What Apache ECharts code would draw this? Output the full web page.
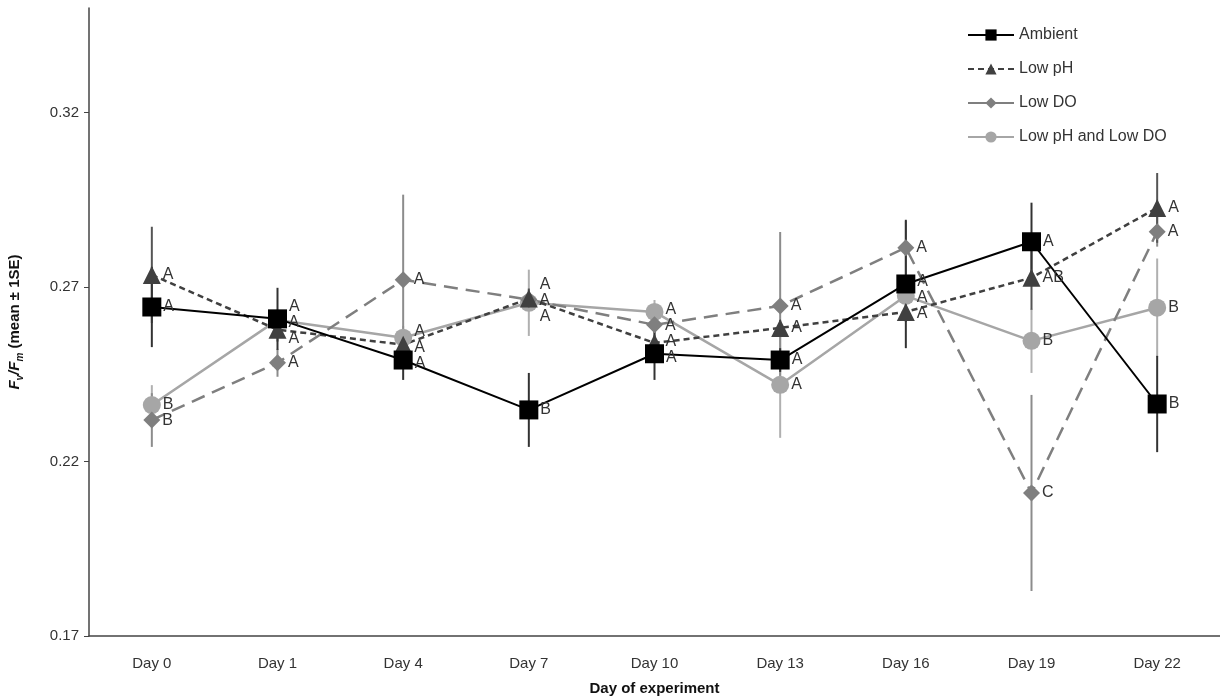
<!DOCTYPE html>
<html>
<head>
<meta charset="utf-8">
<script src="https://cdn.jsdelivr.net/npm/echarts@6/dist/echarts.min.js"></script>
<style>
  html, body { margin: 0; padding: 0; background: #fff; }
  #chart { width: 1220px; height: 700px; }
</style>
</head>
<body>
<div id="chart"></div>
<script>
// categories
var days = ["Day 0", "Day 1", "Day 4", "Day 7", "Day 10", "Day 13", "Day 16", "Day 19", "Day 22"];
var yTicks = [0.17, 0.22, 0.27, 0.32];

// means
var ambient = [0.2643, 0.2609, 0.2491, 0.2348, 0.2509, 0.2491, 0.2709, 0.2830, 0.2365];
var lowPH = [0.2735, 0.2578, 0.2535, 0.2667, 0.2540, 0.2583, 0.2629, 0.2727, 0.2927];
var lowDO = [0.2319, 0.2483, 0.2721, 0.2664, 0.2592, 0.2646, 0.2813, 0.2110, 0.2859];
var lowBoth = [0.2362, 0.2606, 0.2555, 0.2655, 0.2629, 0.2420, 0.2675, 0.2546, 0.2641];

// standard errors
var ambientSE = [0.0115, 0.0089, 0.0057, 0.0106, 0.0075, 0.0034, 0.0184, 0.0112, 0.0138];
var lowPHSE = [0.0138, 0.0034, 0.0023, 0.0029, 0.0023, 0.0023, 0.0029, 0.0092, 0.0100];
var lowDOSE = [0.0077, 0.0040, 0.0244, 0.0029, 0.0029, 0.0212, 0.0077, 0.0281, 0.0043];
var lowBothSE = [0.0057, 0.0029, 0.0034, 0.0095, 0.0034, 0.0152, 0.0043, 0.0092, 0.0141];

// significance letters
var ambientSig = ["A", "A", "A", "B", "A", "A", "A", "A", "B"];
var lowPHSig = ["A", "A", "A", "A", "A", "A", "A", "AB", "A"];
var lowDOSig = ["B", "A", "A", "A", "A", "A", "A", "C", "A"];
var lowBothSig = ["B", "A", "A", "A", "A", "A", "A", "B", "B"];

var chart = echarts.init(document.getElementById("chart"));

// 误差线
function errorSeries(means, se, color, z) {
  var data = means.map(function (m, i) {
    return [i, m - se[i], m + se[i]];
  });
  return {
    type: "custom",
    z: z,
    silent: true,
    renderItem: function (params, api) {
      var lo = api.coord([api.value(0), api.value(1)]);
      var hi = api.coord([api.value(0), api.value(2)]);
      return {
        type: "line",
        shape: { x1: lo[0], y1: lo[1], x2: hi[0], y2: hi[1] },
        style: { stroke: color, lineWidth: 2 }
      };
    },
    encode: { x: 0, y: [1, 2] },
    data: data
  };
}

function lineSeries(name, values, sig, color, symbol, size, lineType, width) {
  return {
    name: name,
    type: "line",
    z: 5,
    data: values,
    symbol: symbol,
    symbolSize: size,
    itemStyle: { color: color },
    lineStyle: { color: color, width: width, type: lineType },
    label: {
      show: true,
      position: "right",
      distance: 2,
      fontSize: 16,
      color: "#333",
      fontFamily: "Liberation Sans, Arial, sans-serif",
      formatter: function (p) { return sig[p.dataIndex]; }
    },
    emphasis: { disabled: true }
  };
}

var lineDefs = [
  ["Low pH and Low DO", lowBoth, lowBothSig, "#a6a6a6", "circle", 18, "solid", 2.5],
  ["Low DO", lowDO, lowDOSig, "#7f7f7f", "diamond", 17, [14, 8], 2.5],
  ["Low pH", lowPH, lowPHSig, "#404040", "triangle", 18, [6, 4], 2.5],
  ["Ambient", ambient, ambientSig, "#000000", "rect", 19, "solid", 2]
];

var option = {
  animation: false,
  textStyle: { fontFamily: "Liberation Sans, Arial, sans-serif" },
  grid: { left: 89, right: 0, top: 8, bottom: 64, outerBoundsMode: "none" },
  legend: {
    orient: "vertical",
    left: 962,
    top: 22,
    itemWidth: 46,
    itemHeight: 14,
    itemGap: 18,
    textStyle: { fontSize: 16, color: "#333" },
    data: [
      { name: "Ambient" },
      { name: "Low pH" },
      { name: "Low DO", lineStyle: { type: "solid" } },
      { name: "Low pH and Low DO" }
    ]
  },
  xAxis: {
    type: "category",
    data: days,
    name: "Day of experiment",
    nameLocation: "middle",
    nameGap: 45,
    nameTextStyle: { fontSize: 15, fontWeight: "bold", color: "#111" },
    axisLine: { lineStyle: { color: "#444", width: 1.5 } },
    axisTick: { inside: true, length: 5, lineStyle: { color: "#444" } },
    axisLabel: { fontSize: 15, color: "#333", margin: 20 },
    splitLine: { show: false }
  },
  yAxis: {
    type: "value",
    min: 0.17,
    max: 0.35,
    interval: 0.05,
    name: "{i|F}{sub|v}{i|/F}{sub|m}{n| (mean ± 1SE)}",
    nameLocation: "middle",
    nameGap: 64,
    nameRotate: 90,
    nameTextStyle: {
      rich: {
        i: { fontSize: 15, fontStyle: "italic", fontWeight: "bold", color: "#111", lineHeight: 20 },
        sub: { fontSize: 10, fontStyle: "italic", fontWeight: "bold", color: "#111", verticalAlign: "bottom", lineHeight: 20 },
        n: { fontSize: 15, fontWeight: "bold", color: "#111", lineHeight: 20 }
      }
    },
    axisLine: { show: true, lineStyle: { color: "#444", width: 1.5 } },
    axisTick: { show: true, length: 5, customValues: yTicks, lineStyle: { color: "#444" } },
    axisLabel: {
      fontSize: 15,
      color: "#333",
      margin: 10,
      customValues: yTicks,
      formatter: function (v) { return v.toFixed(2); }
    },
    splitLine: { show: false }
  },
  series: [
    errorSeries(lowBoth, lowBothSE, "#b0b0b0", 1),
    errorSeries(lowDO, lowDOSE, "#8c8c8c", 1),
    errorSeries(lowPH, lowPHSE, "#555555", 2),
    errorSeries(ambient, ambientSE, "#333333", 2)
  ].concat(lineDefs.map(function (d) {
    return lineSeries.apply(null, d);
  }))
};

chart.setOption(option);

// 字母标签错开，避免重叠
var gap = 16;
var offsets = lineDefs.map(function () { return []; });
days.forEach(function (day, i) {
  var items = lineDefs.map(function (d, s) {
    return { s: s, y: chart.convertToPixel({ gridIndex: 0 }, [i, d[1][i]])[1] };
  });
  items.sort(function (a, b) { return a.y - b.y; });
  var clusters = items.map(function (it) { return [it]; });
  var changed = true;
  function place(c) {
    var mean = c.reduce(function (t, it) { return t + it.y; }, 0) / c.length;
    var top = mean - (c.length - 1) * gap / 2;
    c.forEach(function (it, k) { it.p = top + k * gap; });
  }
  clusters.forEach(place);
  while (changed) {
    changed = false;
    for (var k = 0; k < clusters.length - 1; k++) {
      var a = clusters[k], b = clusters[k + 1];
      if (b[0].p - a[a.length - 1].p < gap) {
        clusters.splice(k, 2, a.concat(b));
        place(clusters[k]);
        changed = true;
        break;
      }
    }
  }
  items.forEach(function (it) { offsets[it.s][i] = it.p - it.y; });
});

chart.setOption({
  series: option.series.slice(0, 4).map(function () { return {}; }).concat(
    lineDefs.map(function (d, s) {
      return {
        data: d[1].map(function (v, i) {
          return { value: v, label: { offset: [0, offsets[s][i]] } };
        })
      };
    })
  )
});

window.addEventListener("resize", function () {
  chart.resize();
});
</script>
</body>
</html>
